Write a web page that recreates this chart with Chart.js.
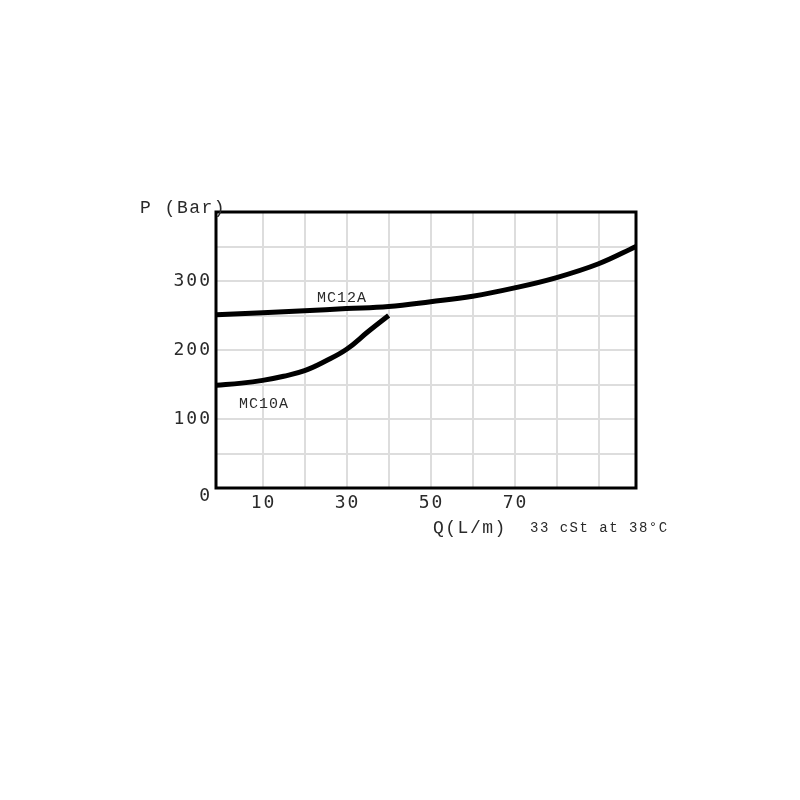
<!DOCTYPE html>
<html>
<head>
<meta charset="utf-8">
<script src="https://cdn.jsdelivr.net/npm/chart.js@4/dist/chart.umd.min.js"></script>
<style>
  html, body { margin: 0; padding: 0; background: #fff; }
  #wrap { width: 800px; height: 800px; }
</style>
</head>
<body>
<div id="wrap"><canvas id="c" width="800" height="800"></canvas></div>
<script>
// flow Q (L/m) vs pressure P (Bar)
const mc12a_q = [-1, 10, 20, 30, 40, 50, 60, 70, 80, 90, 98.9]
const mc12a_p = [251, 254, 257, 260, 263, 270, 278, 290, 305, 325, 350]
const mc10a_q = [-1, 5, 10, 15, 20, 25, 30, 35, 40]
const mc10a_p = [149, 152, 156, 162, 170, 184, 201, 226, 250]

const x_grid = [10, 20, 30, 40, 50, 60, 70, 80, 90]
const x_tick_labels = [10, 30, 50, 70]
const y_tick_labels = [0, 100, 200, 300]

function to_points(xs, ys) {
    return xs.map((x, i) => ({x: x, y: ys[i]}))
}

function make_dataset(label, xs, ys) {
    return {
        label: label,
        data: to_points(xs, ys),
        showLine: true,
        borderColor: '#000',
        borderWidth: 5,
        pointRadius: 0,
        tension: 0.4,
        borderCapStyle: 'butt'
    }
}

const text_plugin = {
    id: 'texts',
    afterDraw(chart) {
        const ctx = chart.ctx
        const xs = chart.scales.x
        const ys = chart.scales.y
        const a = chart.chartArea
        ctx.save()

        // frame
        ctx.strokeStyle = '#000'
        ctx.lineWidth = 3
        ctx.strokeRect(a.left, a.top, a.right - a.left, a.bottom - a.top)

        ctx.fillStyle = '#2a2a2a'
        ctx.letterSpacing = '2px'
        ctx.font = '18px "DejaVu Sans Mono"'
        ctx.textAlign = 'center'
        ctx.textBaseline = 'middle'
        x_tick_labels.forEach(v => {
            ctx.fillText(String(v), xs.getPixelForValue(v) + 1, a.bottom + 15)
        })
        ctx.textAlign = 'right'
        y_tick_labels.forEach(v => {
            let y = ys.getPixelForValue(v)
            if (v == 0) y += 8
            ctx.fillText(String(v), a.left - 4, y)
        })

        ctx.font = '18px "Liberation Mono"'
        ctx.letterSpacing = '1.5px'
        ctx.textAlign = 'left'
        ctx.fillText('P (Bar)', 140, a.top - 4)
        ctx.fillText('Q(L/m)', 433, a.bottom + 40)

        ctx.font = '14px "Liberation Mono"'
        ctx.letterSpacing = '1.5px'
        ctx.fillText('33 cSt at 38\u00b0C', 530, a.bottom + 40)

        ctx.textAlign = 'center'
        ctx.font = '15px "Liberation Mono"'
        ctx.letterSpacing = '1px'
        ctx.fillText('MC12A', xs.getPixelForValue(28.9), ys.getPixelForValue(276))
        ctx.fillText('MC10A', xs.getPixelForValue(10.3), ys.getPixelForValue(122))
        ctx.restore()
    }
}

new Chart(document.getElementById('c'), {
    type: 'scatter',
    data: {
        datasets: [
            make_dataset('MC12A', mc12a_q, mc12a_p),
            make_dataset('MC10A', mc10a_q, mc10a_p)
        ]
    },
    options: {
        responsive: false,
        animation: false,
        layout: {padding: {left: 216, top: 212, right: 164, bottom: 312}},
        plugins: {legend: {display: false}, tooltip: {enabled: false}},
        scales: {
            x: {
                type: 'linear',
                min: -1.1,
                max: 98.9,
                afterBuildTicks: axis => { axis.ticks = x_grid.map(v => ({value: v})) },
                ticks: {display: false},
                grid: {color: '#dddddd', lineWidth: 2, drawTicks: false},
                border: {display: false}
            },
            y: {
                min: 0,
                max: 400,
                ticks: {display: false, stepSize: 50},
                grid: {color: '#dddddd', lineWidth: 2, drawTicks: false},
                border: {display: false}
            }
        }
    },
    plugins: [text_plugin]
})
</script>
</body>
</html>
